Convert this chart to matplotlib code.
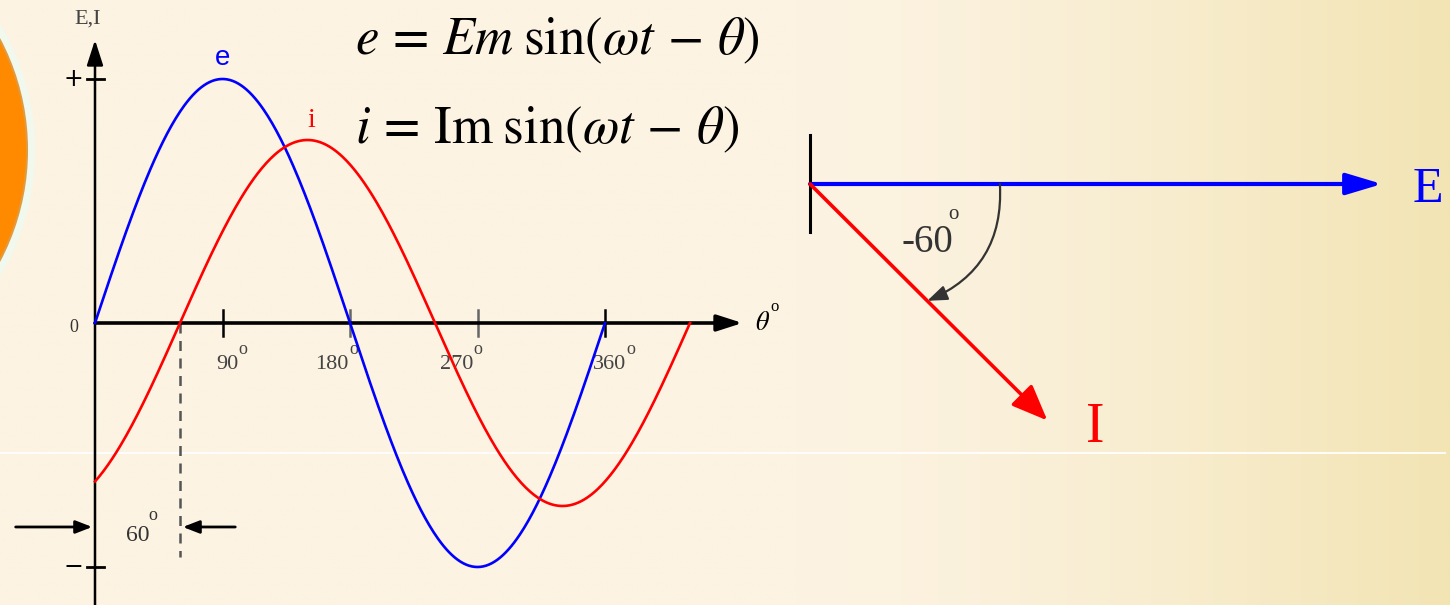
import numpy as np
import matplotlib.pyplot as plt
from matplotlib.patches import Ellipse
from matplotlib.colors import to_rgb

plt.rcParams["mathtext.fontset"] = "stix"
SERIF = "Liberation Serif"

# waveforms: e = Em sin(wt), i lags by PHASE degrees
EM = 1.0
IM = 0.75
PHASE = 60
XTICKS = [90, 180, 270, 360]
XTICK_LABELS = ["90", "180", "270", "360"]
XTICK_COLORS = ["black", "#666666", "#666666", "black"]
XTICK_SHIFT = [11, -1, -3, 15]      # right edge of label vs tick, degrees

# phasors
E_MAG = 1.0
I_MAG = 0.83
I_ANGLE = -60

W, H = 1450, 605
fig = plt.figure(figsize=(W / 100, H / 100), dpi=100)


def px_box(x0, y0, x1, y1):
    """pixel box (origin top-left) -> figure rect"""
    return [x0 / W, 1 - y1 / H, (x1 - x0) / W, (y1 - y0) / H]


# ---- backdrop -------------------------------------------------------------
bg = fig.add_axes([0, 0, 1, 1])
bg.set_axis_off()
gx = np.linspace(0, 1, 400)
t = np.clip((gx - 0.55) / 0.45, 0, 1) ** 1.5
c0 = np.array(to_rgb("#fcf3e2"))
c1 = np.array(to_rgb("#f2e4b3"))
row = c0[None, :] + (c1 - c0)[None, :] * t[:, None]
grad = np.repeat(row[None, :, :], 40, axis=0)
bg.imshow(grad, extent=(0, W, H, 0), aspect="auto", interpolation="bilinear")
bg.add_patch(Ellipse((-210, 150), 490, 490, fc="#f1f9ef", ec="none"))
bg.add_patch(Ellipse((-210, 150), 474, 474, fc="#ff8a00", ec="#e09a40", lw=1.5))
bg.plot([0, 1445], [453, 453], color="white", lw=1.3)
bg.set_xlim(0, W)
bg.set_ylim(H, 0)

# ---- time-domain waveforms ------------------------------------------------
wave = fig.add_axes(px_box(95, 79, 605, 567))
wave.set_axis_off()
wave.patch.set_alpha(0)
wave.set_xlim(0, 360)
wave.set_ylim(-EM, EM)

th_e = np.linspace(0, 360, 361)
th_i = np.linspace(0, 360 + PHASE, 421)
wave.plot(th_e, EM * np.sin(np.radians(th_e)), color="#0000ff", lw=1.9,
          zorder=4, clip_on=False)
wave.plot(th_i, IM * np.sin(np.radians(th_i - PHASE)), color="#ff0000",
          lw=1.9, zorder=4, clip_on=False)

# axes with arrow heads
axis_kw = dict(arrowstyle="-|>,head_length=1.4,head_width=0.45",
               mutation_scale=11, color="black", shrinkA=0, shrinkB=0)
wave.annotate("", xy=(457, 0), xytext=(0, 0), annotation_clip=False,
              arrowprops=dict(lw=2.6, **axis_kw))
wave.annotate("", xy=(0, 1.16), xytext=(0, -1.16), annotation_clip=False,
              arrowprops=dict(lw=1.8, **axis_kw))

for x, lab, col, dx in zip(XTICKS, XTICK_LABELS, XTICK_COLORS, XTICK_SHIFT):
    wave.plot([x, x], [0.055, -0.055], color=col, lw=1.8, clip_on=False)
    wave.text(x + dx, -0.172, lab, ha="right", va="center", fontsize=16,
              family=SERIF, color="#444444")
    wave.text(x + dx + 0.3, -0.11, "o", ha="left", va="center", fontsize=13,
              family=SERIF, color="#444444")

wave.text(-5, 1.246, "E,I", ha="center", va="center", fontsize=16,
          family=SERIF, color="#444444")
wave.text(-12, -0.02, "0", ha="right", va="center", fontsize=13,
          family=SERIF, color="#333333")
for a, sign in [(EM, "+"), (-EM, "\u2212")]:
    wave.plot([-6, 6], [a, a], color="black", lw=2, clip_on=False)
    wave.text(-15, a, sign, ha="center", va="center", fontsize=17,
              family="DejaVu Sans", color="black")

wave.text(471.5, 0, r"$\theta$", ha="center", va="center", fontsize=19,
          color="black")
wave.text(480, 0.066, "o", ha="center", va="center", fontsize=12,
          family=SERIF, color="black")

wave.text(90, 1.086, "e", ha="center", va="center", fontsize=20,
          family="Liberation Sans", color="#0000ff")
wave.text(153, 0.83, "i", ha="center", va="center", fontsize=20,
          family=SERIF, color="#ff0000")

# 60 degree lag marker
wave.plot([PHASE, PHASE], [0, -0.96], color="#555555", lw=1.8,
          dashes=(4, 3), clip_on=False)
small_kw = dict(arrowstyle="-|>,head_length=0.9,head_width=0.35",
                mutation_scale=11, color="black", lw=2, shrinkA=0, shrinkB=0)
wave.annotate("", xy=(-2, -0.836), xytext=(-56, -0.836),
              annotation_clip=False, arrowprops=small_kw)
wave.annotate("", xy=(PHASE + 2, -0.836), xytext=(99, -0.836),
              annotation_clip=False, arrowprops=small_kw)
wave.text(PHASE / 2, -0.869, str(PHASE), ha="center", va="center",
          fontsize=17, family=SERIF, color="#333333")
wave.text(41, -0.79, "o", ha="center", va="center", fontsize=13,
          family=SERIF, color="#333333")

# ---- equations ------------------------------------------------------------
fig.text(355 / W, 1 - 54 / H,
         r"$e\,=\,Em\;\sin(\omega t\,-\,\theta)$",
         fontsize=38, va="baseline", ha="left", color="black")
fig.text(355 / W, 1 - 143 / H,
         r"$i\,=\,\mathrm{Im}\;\sin(\omega t\,-\,\theta)$",
         fontsize=38, va="baseline", ha="left", color="black")

# ---- phasor diagram -------------------------------------------------------
ph = fig.add_axes(px_box(810, 184, 1382, 513))
ph.set_axis_off()
ph.patch.set_alpha(0)
ph.set_xlim(0, 1)
ph.set_ylim(-1, 0)

ph.plot([0, 0], [0.15, -0.146], color="black", lw=2.2, clip_on=False)

e_tip = (E_MAG, 0.0)
i_tip = (I_MAG * np.cos(np.radians(I_ANGLE)),
         I_MAG * np.sin(np.radians(I_ANGLE)))

ph.annotate("", xy=e_tip, xytext=(0, 0), annotation_clip=False,
            arrowprops=dict(arrowstyle="-|>,head_length=1.1,head_width=0.33",
                            mutation_scale=20, color="#0000ff", lw=3,
                            shrinkA=0, shrinkB=0))
ph.annotate("", xy=i_tip, xytext=(0, 0), annotation_clip=False,
            arrowprops=dict(arrowstyle="-|>,head_length=1.1,head_width=0.45",
                            mutation_scale=20, color="#ff0000", lw=2.6,
                            shrinkA=0, shrinkB=0))
ph.annotate("E", xy=e_tip, xytext=(46, -6), textcoords="offset pixels",
            ha="center", va="center", fontsize=36, family=SERIF,
            color="#0000ff", annotation_clip=False)
ph.annotate("I", xy=i_tip, xytext=(48, -8), textcoords="offset pixels",
            ha="center", va="center", fontsize=40, family=SERIF,
            color="#ff0000", annotation_clip=False)

# angle arc from E round to I
arc_start = (0.332, 0.0)
arc_end = (0.41 * np.cos(np.radians(I_ANGLE)), 0.41 * np.sin(np.radians(I_ANGLE)))
ph.annotate("", xy=arc_end, xytext=arc_start, annotation_clip=False,
            arrowprops=dict(arrowstyle="-|>,head_length=0.8,head_width=0.3",
                            mutation_scale=15, color="#333333", lw=1.6,
                            connectionstyle="arc3,rad=-0.35",
                            shrinkA=0, shrinkB=0))
ph.text(0.2045, -0.179, str(I_ANGLE), ha="center", va="center", fontsize=28,
        family=SERIF, color="#333333")
ph.text(0.25, -0.094, "o", ha="center", va="center", fontsize=15,
        family=SERIF, color="#333333")

fig.savefig("out.png", dpi=100)
